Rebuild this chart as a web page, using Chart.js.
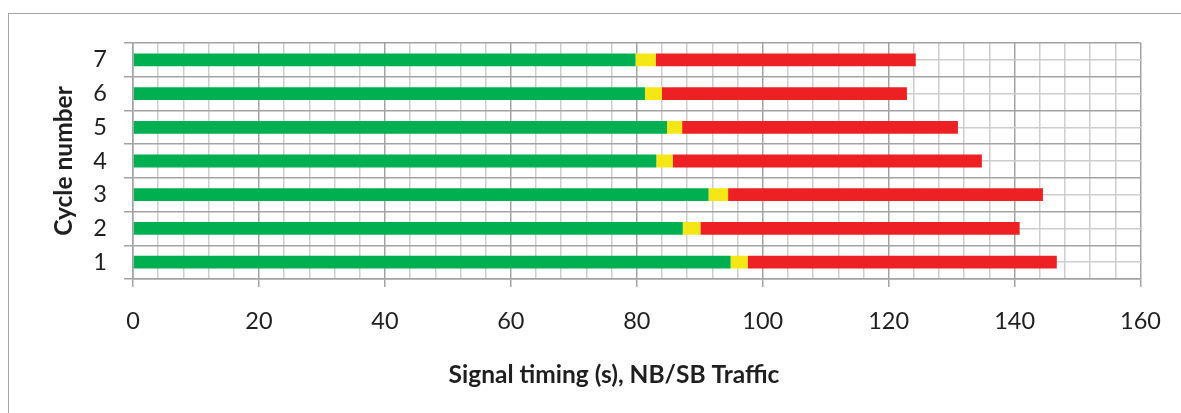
<!DOCTYPE html>
<html>
<head>
<meta charset="utf-8">
<script src="https://cdn.jsdelivr.net/npm/chart.js@4/dist/chart.umd.min.js"></script>
<style>
  html, body { margin: 0; padding: 0; background: #ffffff; }
  #frame {
    position: absolute; left: 8px; top: 13px; width: 1173px; height: 400px;
    border-left: 1px solid #a6a6a6; border-top: 1px solid #a6a6a6;
  }
  #chart { position: absolute; left: 0; top: 0; }
</style>
</head>
<body>
<div id="frame"></div>
<canvas id="chart" width="1181" height="413"></canvas>
<script>
// Cycle numbers on the vertical axis (1 at the bottom)
const cycles = ['1', '2', '3', '4', '5', '6', '7'];

// Phase durations per cycle, seconds
const greenTime  = [94.9, 87.3, 91.4, 83.1, 84.8, 81.3, 79.8];
const yellowTime = [2.7, 2.8, 3.1, 2.6, 2.4, 2.7, 3.2];
const redTime    = [49.1, 50.7, 50.0, 49.1, 43.8, 38.9, 41.3];

// Value axis: labelled every 20 s, grid every 4 s
const timeMin = 0;
const timeMax = 160;
const labelStep = 20;
const gridStep = 4;

const xTitle = 'Signal timing (s), NB/SB Traffic';
const yTitle = 'Cycle number';

const majorLine = '#a3a3a6';
const minorLine = '#cdcdd0';
const textColor = '#1f1f1f';
const fontFamily = 'Lato, "Open Sans", sans-serif';

const fixedSize = (prop, v) => (scale) => { scale[prop] = v; };

new Chart(document.getElementById('chart'), {
  type: 'bar',
  data: {
    labels: cycles,
    datasets: [
      { label: 'Green',  data: greenTime,  backgroundColor: '#00b050' },
      { label: 'Yellow', data: yellowTime, backgroundColor: '#f5e616' },
      { label: 'Red',    data: redTime,    backgroundColor: '#ed2024' }
    ]
  },
  options: {
    indexAxis: 'y',
    responsive: false,
    animation: false,
    devicePixelRatio: 1,
    layout: { padding: { left: 47, right: 0, top: 43, bottom: 0 } },
    datasets: { bar: { categoryPercentage: 1, barPercentage: 0.38, borderWidth: 0 } },
    plugins: {
      legend: { display: false },
      tooltip: { enabled: false },
      title: {
        display: true,
        position: 'bottom',
        text: xTitle,
        color: textColor,
        font: { family: fontFamily, size: 24.5, weight: 'bold', lineHeight: 1.2 },
        padding: { top: 0, bottom: 23 }
      }
    },
    scales: {
      x: {
        type: 'linear',
        stacked: true,
        min: timeMin,
        max: timeMax,
        afterFit: fixedSize('height', 81.6),
        ticks: {
          stepSize: gridStep,
          autoSkip: false,
          maxRotation: 0,
          padding: 20,
          color: textColor,
          font: { family: fontFamily, size: 23.5 },
          callback: (v) => (v % labelStep === 0 ? String(v) : '')
        },
        grid: {
          lineWidth: 1.5,
          tickLength: 8,
          color: (ctx) => (ctx.tick && ctx.tick.value % labelStep === 0 ? majorLine : minorLine),
          tickColor: (ctx) => (ctx.tick && ctx.tick.value % labelStep === 0 ? majorLine : 'rgba(0,0,0,0)')
        },
        border: { color: majorLine, width: 1.5 }
      },
      y: {
        type: 'category',
        stacked: true,
        reverse: true,
        offset: true,
        afterFit: fixedSize('width', 86),
        ticks: {
          padding: 17,
          color: textColor,
          font: { family: fontFamily, size: 23.5 }
        },
        grid: { offset: true, lineWidth: 1.5, tickLength: 9, color: majorLine, tickColor: majorLine },
        border: { color: majorLine, width: 1.5 },
        title: {
          display: true,
          text: yTitle,
          color: textColor,
          font: { family: fontFamily, size: 24.5, weight: 'bold', lineHeight: 1.2 },
          padding: { top: 2, bottom: 0 }
        }
      },
      // Light lines through the middle of each cycle row
      yMid: {
        type: 'category',
        labels: cycles,
        position: 'right',
        reverse: true,
        offset: true,
        afterFit: fixedSize('width', 38),
        ticks: { display: false },
        grid: { offset: false, drawTicks: false, lineWidth: 1.5, color: minorLine },
        border: { display: false }
      }
    }
  }
});
</script>
</body>
</html>
